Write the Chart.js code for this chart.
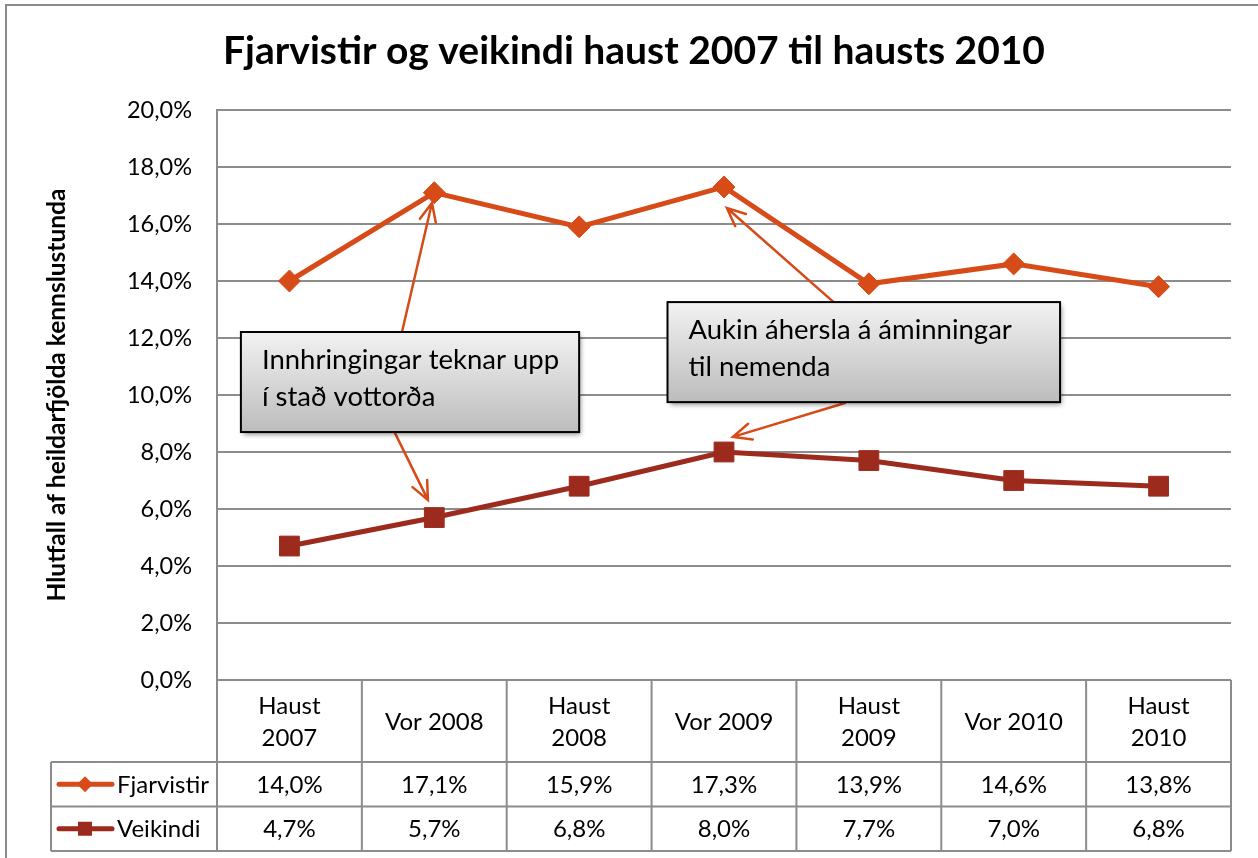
<!DOCTYPE html>
<html>
<head>
<meta charset="utf-8">
<script src="https://cdn.jsdelivr.net/npm/chart.js@4"></script>
<style>
  body { margin: 0; background: #fff; }
  canvas { display: block; }
</style>
</head>
<body>
<canvas id="chart" width="1258" height="858"></canvas>
<script>
// Gögn úr myndinni
const categories = [['Haust', '2007'], ['Vor 2008'], ['Haust', '2008'], ['Vor 2009'], ['Haust', '2009'], ['Vor 2010'], ['Haust', '2010']];
const fjarvistir = [14.0, 17.1, 15.9, 17.3, 13.9, 14.6, 13.8];
const veikindi = [4.7, 5.7, 6.8, 8.0, 7.7, 7.0, 6.8];
const seriesNames = ['Fjarvistir', 'Veikindi'];
const yMin = 0, yMax = 20, yStep = 2;
const chartTitle = 'Fjarvistir og veikindi haust 2007 til hausts 2010';

// Athugasemdir (í gagnahnitum: x = flokksnúmer, y = prósent)
const notes = [
    { lines: ['Innhringingar teknar upp', 'í stað vottorða'], x0: -0.335, x1: 2.0, yTop: 12.21, yBottom: 8.70 },
    { lines: ['Aukin áhersla á áminningar', 'til nemenda'], x0: 2.61, x1: 5.32, yTop: 13.26, yBottom: 9.75 }
];
const arrows = [
    [0.777, 12.21, 0.984, 16.74],
    [0.728, 8.67, 0.956, 6.32],
    [3.835, 12.91, 3.02, 16.56],
    [3.835, 9.72, 3.062, 8.53]
];

const orange = '#D64B17';
const darkRed = '#9C2B1E';
const gridGray = '#8c8c8c';
const FONT = 'Lato, "Open Sans", sans-serif';

function pct(v) {
    return v.toFixed(1).replace('.', ',') + '%';
}

function drawMarker(ctx, style, x, y, r, color) {
    ctx.save();
    ctx.fillStyle = color;
    ctx.beginPath();
    if (style === 'diamond') {
        ctx.moveTo(x, y - r);
        ctx.lineTo(x + r, y);
        ctx.lineTo(x, y + r);
        ctx.lineTo(x - r, y);
    } else {
        ctx.rect(x - r, y - r, 2 * r, 2 * r);
    }
    ctx.closePath();
    ctx.fill();
    ctx.restore();
}

// Rammi utan um allt og fyrirsögn
const framePlugin = {
    id: 'frame',
    beforeDraw(chart) {
        const ctx = chart.ctx;
        ctx.save();
        ctx.strokeStyle = '#8a8a8a';
        ctx.lineWidth = 2;
        ctx.beginPath();
        ctx.moveTo(6, chart.height + 5);
        ctx.lineTo(6, 5);
        ctx.lineTo(chart.width + 5, 5);
        ctx.stroke();

        ctx.fillStyle = '#000';
        ctx.font = 'bold 39px ' + FONT;
        ctx.textAlign = 'center';
        ctx.textBaseline = 'middle';
        ctx.fillText(chartTitle, (chart.width + 10) / 2, 51);
        ctx.restore();
    }
};

// Athugasemdakassar og örvar
const notesPlugin = {
    id: 'notes',
    afterDatasetsDraw(chart) {
        const ctx = chart.ctx;
        const xs = chart.scales.x, ys = chart.scales.y;
        ctx.save();
        // örvar
        ctx.strokeStyle = orange;
        ctx.lineWidth = 2.5;
        ctx.lineCap = 'round';
        arrows.forEach(a => {
            const x0 = xs.getPixelForValue(a[0]), y0 = ys.getPixelForValue(a[1]);
            const x1 = xs.getPixelForValue(a[2]), y1 = ys.getPixelForValue(a[3]);
            const ang = Math.atan2(y1 - y0, x1 - x0);
            const head = 20, spread = 0.42;
            ctx.beginPath();
            ctx.moveTo(x0, y0);
            ctx.lineTo(x1, y1);
            ctx.moveTo(x1 - head * Math.cos(ang - spread), y1 - head * Math.sin(ang - spread));
            ctx.lineTo(x1, y1);
            ctx.lineTo(x1 - head * Math.cos(ang + spread), y1 - head * Math.sin(ang + spread));
            ctx.stroke();
        });
        // kassar
        notes.forEach(n => {
            const left = xs.getPixelForValue(n.x0), right = xs.getPixelForValue(n.x1);
            const top = ys.getPixelForValue(n.yTop), bottom = ys.getPixelForValue(n.yBottom);
            ctx.save();
            ctx.shadowColor = 'rgba(0,0,0,0.45)';
            ctx.shadowBlur = 5;
            ctx.shadowOffsetX = 2;
            ctx.shadowOffsetY = 3;
            const g = ctx.createLinearGradient(0, top, 0, bottom);
            g.addColorStop(0, '#f2f2f2');
            g.addColorStop(1, '#bcbcbc');
            ctx.fillStyle = g;
            ctx.fillRect(left, top, right - left, bottom - top);
            ctx.restore();
            ctx.strokeStyle = '#000';
            ctx.lineWidth = 2;
            ctx.strokeRect(left, top, right - left, bottom - top);
            ctx.fillStyle = '#000';
            ctx.font = '27.5px ' + FONT;
            ctx.textAlign = 'left';
            ctx.textBaseline = 'alphabetic';
            n.lines.forEach((t, i) => ctx.fillText(t, left + 21, top + 37 + i * 37));
        });
        ctx.restore();
    }
};

// Gagnatafla undir grafinu
const tablePlugin = {
    id: 'dataTable',
    afterDraw(chart) {
        const ctx = chart.ctx;
        const area = chart.chartArea;
        const xs = chart.scales.x;
        const n = categories.length;
        const colW = (area.right - area.left) / n;
        const headerBottom = area.bottom + 82;
        const rowH = 44.5;
        const tableBottom = headerBottom + rowH * 2;
        const legendLeft = 51;

        ctx.save();
        ctx.strokeStyle = gridGray;
        ctx.lineWidth = 2;
        ctx.beginPath();
        for (let i = 0; i <= n; i++) {
            const x = area.left + i * colW;
            ctx.moveTo(x, area.bottom);
            ctx.lineTo(x, tableBottom);
        }
        ctx.moveTo(area.left, area.bottom);
        ctx.lineTo(area.right, area.bottom);
        for (let r = 0; r <= 2; r++) {
            const y = headerBottom + r * rowH;
            ctx.moveTo(legendLeft, y);
            ctx.lineTo(area.right, y);
        }
        ctx.moveTo(legendLeft, headerBottom);
        ctx.lineTo(legendLeft, tableBottom);
        ctx.stroke();

        ctx.fillStyle = '#000';
        ctx.font = '24px ' + FONT;
        ctx.textAlign = 'center';
        ctx.textBaseline = 'middle';
        const headerMid = (area.bottom + headerBottom) / 2 + 1;
        categories.forEach((c, i) => {
            const x = xs.getPixelForValue(i);
            if (c.length === 1) {
                ctx.fillText(c[0], x, headerMid);
            } else {
                ctx.fillText(c[0], x, headerMid - 16);
                ctx.fillText(c[1], x, headerMid + 16);
            }
        });

        const rows = [fjarvistir, veikindi];
        const colors = [orange, darkRed];
        const styles = ['diamond', 'square'];
        const sizes = [8, 7];
        rows.forEach((vals, r) => {
            const yMid = headerBottom + rowH * r + rowH / 2 + 1;
            vals.forEach((v, i) => {
                ctx.textAlign = 'center';
                ctx.fillStyle = '#000';
                ctx.fillText(pct(v), xs.getPixelForValue(i), yMid);
            });
            // lykill
            ctx.strokeStyle = colors[r];
            ctx.lineWidth = 5;
            ctx.lineCap = 'round';
            ctx.beginPath();
            ctx.moveTo(59, yMid - 1);
            ctx.lineTo(112, yMid - 1);
            ctx.stroke();
            drawMarker(ctx, styles[r], 85, yMid - 1, sizes[r], colors[r]);
            ctx.fillStyle = '#000';
            ctx.textAlign = 'left';
            ctx.fillText(seriesNames[r], 117, yMid);
        });
        ctx.restore();
    }
};

new Chart(document.getElementById('chart').getContext('2d'), {
    type: 'line',
    data: {
        labels: categories,
        datasets: [{
            label: seriesNames[0],
            data: fjarvistir,
            borderColor: orange,
            backgroundColor: orange,
            borderWidth: 5,
            pointStyle: 'rectRot',
            pointRadius: 11,
            pointBorderWidth: 1,
            tension: 0,
            fill: false
        }, {
            label: seriesNames[1],
            data: veikindi,
            borderColor: darkRed,
            backgroundColor: darkRed,
            borderWidth: 5,
            pointStyle: 'rect',
            pointRadius: 14,
            pointBorderWidth: 1,
            tension: 0,
            fill: false
        }]
    },
    options: {
        responsive: false,
        animation: false,
        devicePixelRatio: 1,
        layout: { padding: { left: 0, right: 27, top: 110, bottom: 178 } },
        plugins: {
            legend: { display: false },
            tooltip: { enabled: false },
            title: { display: false }
        },
        scales: {
            x: {
                type: 'category',
                display: false,
                offset: true
            },
            y: {
                min: yMin,
                max: yMax,
                ticks: {
                    stepSize: yStep,
                    color: '#000',
                    font: { family: FONT, size: 23.5 },
                    padding: 25,
                    callback: v => pct(v)
                },
                grid: { color: gridGray, lineWidth: 2, drawTicks: false },
                border: { display: true, color: gridGray, width: 2 },
                title: {
                    display: true,
                    text: 'Hlutfall af heildarfjölda kennslustunda',
                    color: '#000',
                    font: { family: FONT, size: 24.5, weight: 'bold' },
                    padding: { top: 42, bottom: 0 }
                },
                afterFit: s => { s.width = 217; }
            }
        }
    },
    plugins: [framePlugin, notesPlugin, tablePlugin]
});
</script>
</body>
</html>
